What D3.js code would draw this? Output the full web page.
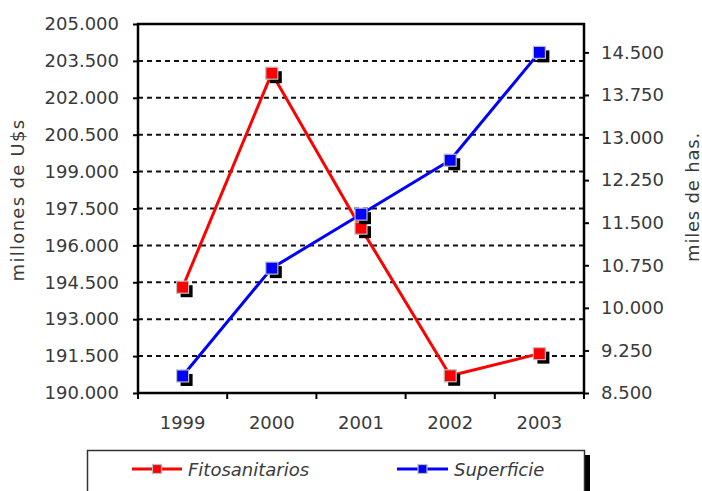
<!DOCTYPE html>
<html>
<head>
<meta charset="utf-8">
<script src="https://cdn.jsdelivr.net/npm/d3@7/dist/d3.min.js"></script>
<style>
  html, body { margin: 0; padding: 0; background: #fff; }
  svg { display: block; font-family: "DejaVu Sans", Verdana, sans-serif; }
</style>
</head>
<body>
<svg id="chart" width="702" height="491"></svg>
<script>
// Years on the category axis
const years = ["1999", "2000", "2001", "2002", "2003"];
// Fitosanitarios, millones de U$s (left axis)
const fitosanitarios = [194300, 203000, 196700, 190700, 191600];
// Superficie, miles de has. (right axis)
const superficie = [8800, 10700, 11650, 12600, 14500];
// Axis tick values
const leftTicks = [190000, 191500, 193000, 194500, 196000, 197500, 199000, 200500, 202000, 203500, 205000];
const rightTicks = [8500, 9250, 10000, 10750, 11500, 12250, 13000, 13750, 14500];

const svg = d3.select("#chart");
const plot = { left: 138, right: 584, top: 24, bottom: 393 };

const locale = d3.formatLocale({ decimal: ",", thousands: ".", grouping: [3], currency: ["$", ""] });
const fmt = locale.format(",d");

const x = d3.scaleBand().domain(years).range([plot.left, plot.right]).padding(0);
const yL = d3.scaleLinear().domain([190000, 205000]).range([plot.bottom, plot.top]);
const yR = d3.scaleLinear().domain([8500, 15000]).range([plot.bottom, plot.top]);

const textColor = "#3a3a3a";

// dashed gridlines
svg.append("g")
  .selectAll("line")
  .data(leftTicks.filter(d => d > 190000 && d < 205000))
  .join("line")
  .attr("x1", plot.left).attr("x2", plot.right)
  .attr("y1", d => yL(d)).attr("y2", d => yL(d))
  .attr("stroke", "#111").attr("stroke-width", 2)
  .attr("stroke-dasharray", "5,4");

// plot frame
svg.append("rect")
  .attr("x", plot.left).attr("y", plot.top)
  .attr("width", plot.right - plot.left).attr("height", plot.bottom - plot.top)
  .attr("fill", "none").attr("stroke", "#000").attr("stroke-width", 2.5);

// left axis
const axL = svg.append("g")
  .attr("transform", `translate(${plot.left},0)`)
  .call(d3.axisLeft(yL).tickValues(leftTicks).tickFormat(fmt).tickSize(5).tickPadding(14));
// right axis
const axR = svg.append("g")
  .attr("transform", `translate(${plot.right},0)`)
  .call(d3.axisRight(yR).tickValues(rightTicks).tickFormat(fmt).tickSize(5).tickPadding(12));
// bottom axis: labels centered in bands
const axB = svg.append("g")
  .attr("transform", `translate(0,${plot.bottom})`)
  .call(d3.axisBottom(x).tickSize(0).tickPadding(23));
// tick marks at the band edges
svg.append("g")
  .attr("transform", `translate(0,${plot.bottom})`)
  .selectAll("line")
  .data(years.map(d => x(d)).concat([plot.right]))
  .join("line")
  .attr("x1", d => d).attr("x2", d => d)
  .attr("y1", 0).attr("y2", 6)
  .attr("stroke", "#000").attr("stroke-width", 2);

[axL, axR, axB].forEach(ax => {
  ax.select(".domain").remove();
  ax.selectAll(".tick line").attr("stroke", "#000").attr("stroke-width", 2);
  ax.selectAll("text").attr("font-size", 18).attr("fill", textColor)
    .attr("font-family", "DejaVu Sans, Verdana, sans-serif");
});

// axis titles
svg.append("text")
  .attr("transform", "translate(24,200) rotate(-90)")
  .attr("text-anchor", "middle")
  .attr("font-size", 18).attr("letter-spacing", 1.3)
  .attr("fill", textColor)
  .text("millones de U$s");
svg.append("text")
  .attr("transform", "translate(699,197) rotate(-90)")
  .attr("text-anchor", "middle")
  .attr("font-size", 18).attr("letter-spacing", 0.8)
  .attr("fill", textColor)
  .text("miles de has.");

// series
const series = [
  { name: "Fitosanitarios", values: fitosanitarios, y: yL, color: "#ff0000" },
  { name: "Superficie", values: superficie, y: yR, color: "#0000ff" }
];

const cx = d => x(d) + x.bandwidth() / 2;
const ms = 12;

function marker(g, px, py, size, color, shadow) {
  if (shadow) {
    g.append("rect")
      .attr("x", px - size / 2 + shadow).attr("y", py - size / 2 + shadow)
      .attr("width", size).attr("height", size)
      .attr("fill", "#000");
  }
  g.append("rect")
    .attr("x", px - size / 2).attr("y", py - size / 2)
    .attr("width", size).attr("height", size)
    .attr("fill", color).attr("stroke", "#bdbdbd").attr("stroke-width", 1.2);
}

series.forEach(s => {
  const g = svg.append("g");
  g.append("path")
    .datum(s.values)
    .attr("fill", "none")
    .attr("stroke", s.color).attr("stroke-width", 3)
    .attr("stroke-linejoin", "round")
    .attr("d", d3.line().x((d, i) => cx(years[i])).y(d => s.y(d)));
  s.values.forEach((v, i) => marker(g, cx(years[i]), s.y(v), ms, s.color, 4));
});

// legend
const lg = svg.append("g");
lg.append("rect")
  .attr("x", 585).attr("y", 455).attr("width", 5).attr("height", 50)
  .attr("fill", "#000");
lg.append("rect")
  .attr("x", 87.5).attr("y", 450.5).attr("width", 497).attr("height", 60)
  .attr("fill", "#fff").attr("stroke", "#333").attr("stroke-width", 1.5);

const legendItems = [
  { s: series[0], x0: 132, x1: 182, tx: 188 },
  { s: series[1], x0: 397, x1: 448, tx: 454 }
];
legendItems.forEach(it => {
  lg.append("line")
    .attr("x1", it.x0).attr("x2", it.x1).attr("y1", 469).attr("y2", 469)
    .attr("stroke", it.s.color).attr("stroke-width", 3);
  marker(lg, (it.x0 + it.x1) / 2, 469, 9, it.s.color, 0);
  lg.append("text")
    .attr("x", it.tx).attr("y", 476)
    .attr("font-size", 18).attr("font-style", "italic")
    .attr("fill", textColor)
    .text(it.s.name);
});
</script>
</body>
</html>
